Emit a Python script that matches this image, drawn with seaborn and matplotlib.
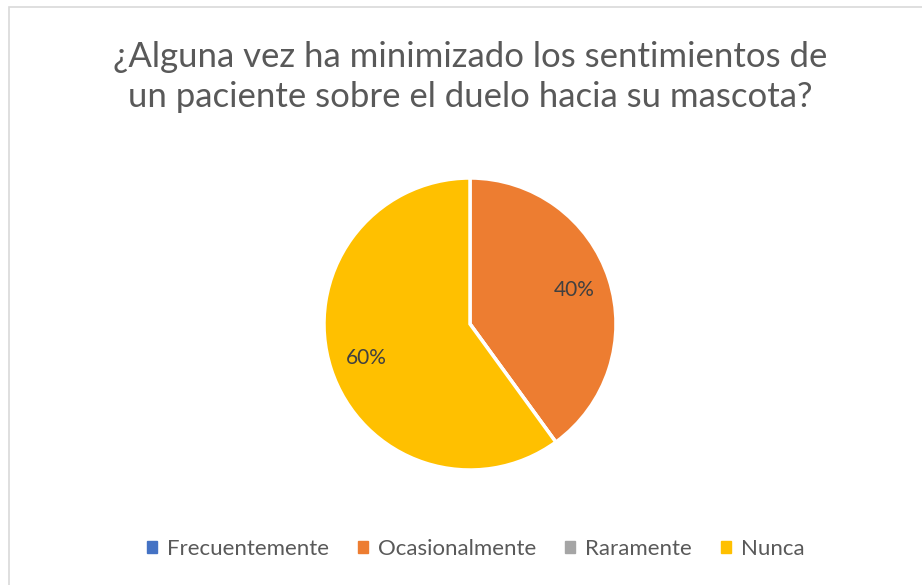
import matplotlib.pyplot as plt
import matplotlib.patches as mpatches
import seaborn as sns

# Data
categories = ['Frecuentemente', 'Ocasionalmente', 'Raramente', 'Nunca']
counts = [0, 4, 0, 6]
colors = ['#4472C4', '#ED7D31', '#A5A5A5', '#FFC000']
title = '¿Alguna vez ha minimizado los sentimientos de\nun paciente sobre el duelo hacia su mascota?'

sns.set_style('white')
plt.rcParams['font.family'] = ['Lato', 'DejaVu Sans']
text_color = '#595959'

fig = plt.figure(figsize=(9.22, 5.85), dpi=100)

# chart border (cut at right and bottom like the screenshot)
fig.patches.append(mpatches.Rectangle((9 / 922, -0.05), 1.0, 1 - 7 / 585 + 0.05,
                                      transform=fig.transFigure, fill=False,
                                      edgecolor='#D9D9D9', linewidth=1.2))
# remains of the previous chart title, clipped by the top edge
fig.text(484 / 922, 1 + 0.012, 'mascota?', ha='center', va='center',
         fontsize=14, color=text_color)

fig.suptitle(title, x=470 / 922, y=1 - 41 / 585, fontsize=25, color=text_color,
             va='top', linespacing=1.32)

# pie axes: centre (470, 324), radius ~146 px
r = 146
ax = fig.add_axes([(470 - r) / 922, 1 - (324 + r) / 585, 2 * r / 922, 2 * r / 585])


def fmt(p):
    return f'{p:.0f}%' if p > 0 else ''


wedges, texts, autotexts = ax.pie(
    counts, colors=colors, startangle=90, counterclock=False,
    autopct=fmt, pctdistance=0.75,
    wedgeprops=dict(edgecolor='white', linewidth=2.5),
    textprops=dict(color='#404040', fontsize=15))
ax.set_xlim(-1, 1)
ax.set_ylim(-1, 1)
ax.set_aspect('equal')

handles = [mpatches.Patch(color=c, label=l) for c, l in zip(colors, categories)]
fig.legend(handles=handles, loc='center', bbox_to_anchor=(476 / 922, 1 - 549 / 585),
           ncol=4, frameon=False, fontsize=16, labelcolor=text_color,
           handlelength=0.45, handleheight=0.45, handletextpad=0.45, columnspacing=1.3)

plt.savefig('out.png', dpi=100)
